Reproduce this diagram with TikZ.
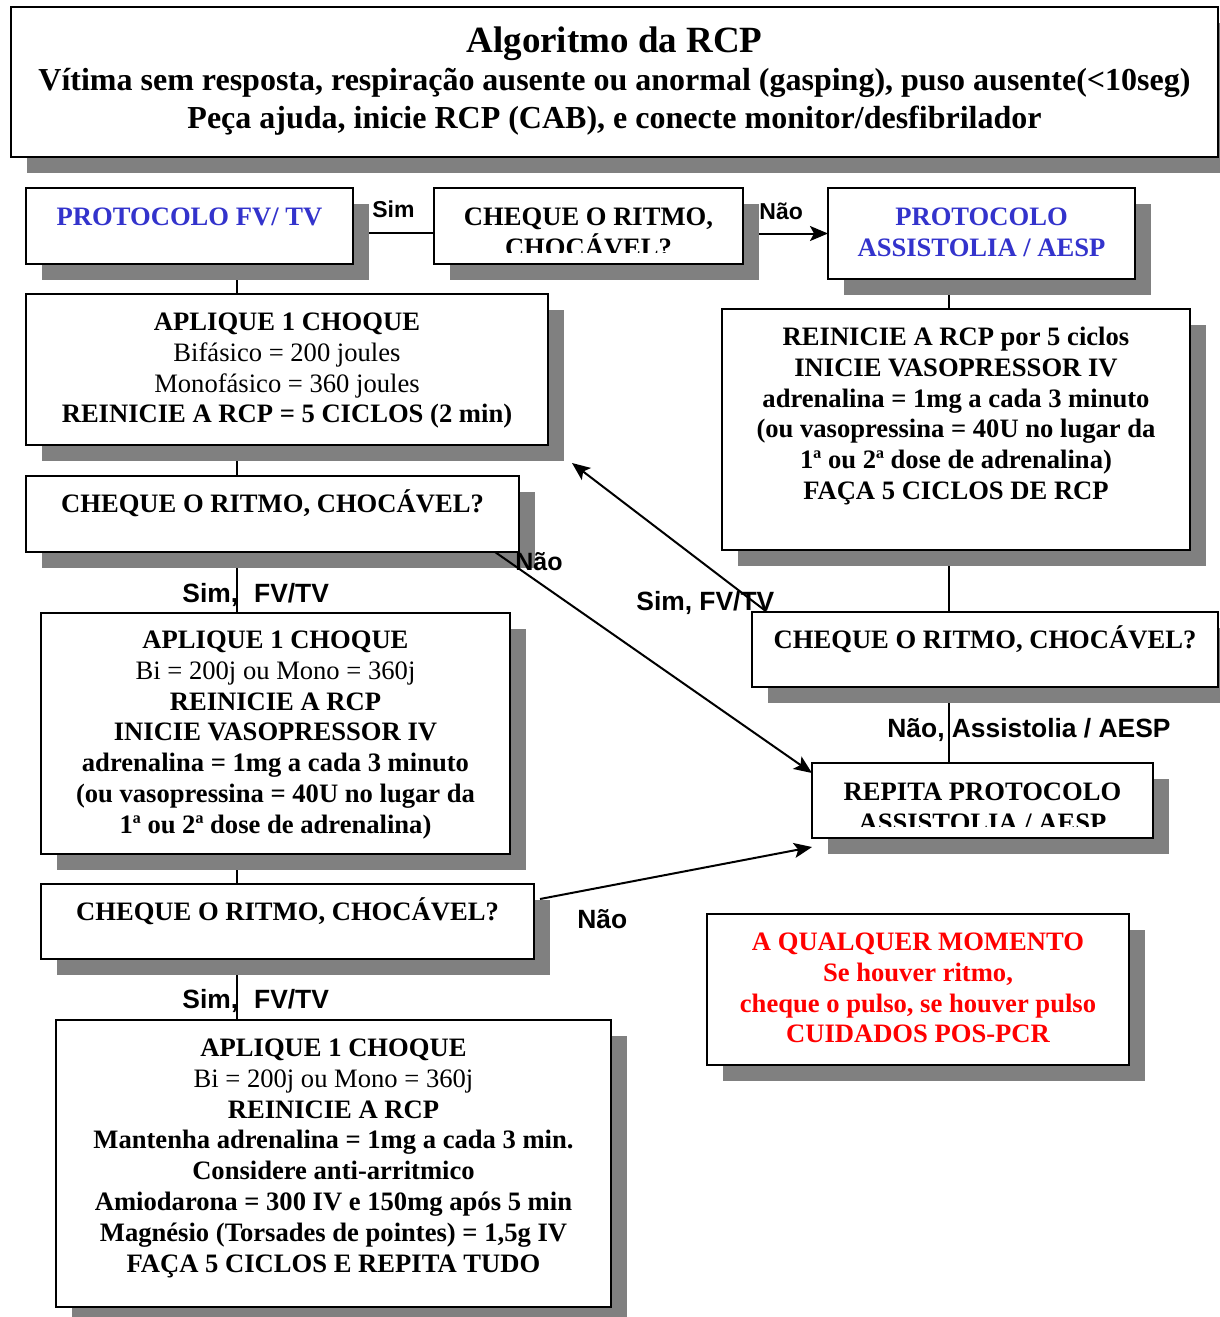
\documentclass[tikz,border=0pt]{standalone}
\usepackage{fontspec}
\setmainfont{Liberation Serif}
\newfontfamily\lblfont{Liberation Sans}
\usetikzlibrary{arrows.meta,shadows,fit,calc}
\pgfdeclarelayer{bg}
\pgfsetlayers{bg,main}
\definecolor{shadowgray}{RGB}{128,128,128}
\definecolor{protoblue}{RGB}{51,51,204}
\definecolor{alertred}{RGB}{255,0,0}
\newcommand{\firstrule}{\rule{0pt}{13pt}}
\begin{document}
\begin{tikzpicture}[x=0.5pt,y=-0.5pt,
 box/.style={draw=black, line width=1.15pt, fill=white, inner sep=0pt, outer sep=0pt,
   general shadow={fill=shadowgray, shadow xshift=8pt, shadow yshift=-8pt}},
 txt/.style={anchor=north, align=center, inner sep=0pt, font=\fontsize{13.3}{15.4}\selectfont\bfseries},
 ttl/.style={anchor=base, inner sep=0pt},
 lbl/.style={anchor=base west, inner sep=0pt, font=\fontsize{13.2}{15}\selectfont\lblfont\bfseries},
 lblsmall/.style={anchor=base west, inner sep=0pt, font=\fontsize{11.5}{13}\selectfont\lblfont\bfseries},
 lblmid/.style={anchor=base west, inner sep=0pt, font=\fontsize{12.5}{14}\selectfont\lblfont\bfseries},
 conn/.style={line width=1pt},
 arr/.style={conn, -{Stealth[length=9pt,width=7.5pt,inset=2pt]}}
]
\useasboundingbox (0,0) rectangle (1220,1317);

% ---------- boxes ----------
\node[box, fit={(11,7)(1218,157)}] (title) {};
\node[box, fit={(26,188)(353,264)}] (pfv) {};
\node[box, fit={(434,188)(743,264)}] (chk1) {};
\node[box, fit={(828,188)(1135,279)}] (pass) {};
\node[box, fit={(26,294)(548,445)}] (box1) {};
\node[box, fit={(26,476)(519,552)}] (chk2) {};
\node[box, fit={(41,613)(510,854)}] (apl2) {};
\node[box, fit={(41,884)(534,959)}] (chk3) {};
\node[box, fit={(56,1020)(611,1307)}] (apl3) {};
\node[box, fit={(722,309)(1190,550)}] (rein) {};
\node[box, fit={(752,612)(1218,687)}] (chkR) {};
\node[box, fit={(812,763)(1153,838)}] (rep) {};
\node[box, fit={(707,914)(1129,1065)}] (qual) {};

% ---------- title ----------
\node[ttl, font=\fontsize{18.5}{22}\selectfont\bfseries] (t1) at (614.5,53) {Algoritmo da RCP};
\node[ttl, font=\fontsize{16}{19}\selectfont\bfseries] (t2) at (614.5,90) {Vítima sem resposta, respiração ausente ou anormal (gasping), puso ausente(<10seg)};
\node[ttl, font=\fontsize{16}{19}\selectfont\bfseries] (t3) at (614.5,128) {Peça ajuda, inicie RCP (CAB), e conecte monitor/desfibrilador};

% ---------- box texts ----------
\node[txt, text=protoblue] (pfvt) at (189.5,199) {\firstrule PROTOCOLO FV/ TV};
\begin{scope}
\clip (434,188) rectangle (743,252);
\node[txt] (chk1t) at (588.5,199) {\firstrule CHEQUE O RITMO,\\CHOCÁVEL?};
\end{scope}
\node[txt, text=protoblue] (passt) at (981.5,199) {\firstrule PROTOCOLO\\ASSISTOLIA / AESP};
\node[txt] (box1t) at (287,304) {\firstrule APLIQUE 1 CHOQUE\\{\mdseries Bifásico = 200 joules}\\{\mdseries Monofásico = 360 joules}\\REINICIE A RCP = 5 CICLOS (2 min)};
\node[txt] (chk2t) at (272.5,486) {\firstrule CHEQUE O RITMO, CHOCÁVEL?};
\node[txt] (apl2t) at (275.5,622) {\firstrule APLIQUE 1 CHOQUE\\{\mdseries Bi = 200j ou Mono = 360j}\\REINICIE A RCP\\INICIE VASOPRESSOR IV\\adrenalina = 1mg a cada 3 minuto\\(ou vasopressina = 40U no lugar da\\1ª ou 2ª dose de adrenalina)};
\node[txt] (chk3t) at (287.5,894) {\firstrule CHEQUE O RITMO, CHOCÁVEL?};
\node[txt] (apl3t) at (333.5,1030) {\firstrule APLIQUE 1 CHOQUE\\{\mdseries Bi = 200j ou Mono = 360j}\\REINICIE A RCP\\Mantenha adrenalina = 1mg a cada 3 min.\\Considere anti-arritmico\\Amiodarona = 300 IV e 150mg após 5 min\\Magnésio (Torsades de pointes) = 1,5g IV\\FAÇA 5 CICLOS E REPITA TUDO};
\node[txt] (reint) at (956,319) {\firstrule REINICIE A RCP por 5 ciclos\\INICIE VASOPRESSOR IV\\adrenalina = 1mg a cada 3 minuto\\(ou vasopressina = 40U no lugar da\\1ª ou 2ª dose de adrenalina)\\FAÇA 5 CICLOS DE RCP};
\node[txt] (chkRt) at (985,622) {\firstrule CHEQUE O RITMO, CHOCÁVEL?};
\begin{scope}
\clip (812,763) rectangle (1153,826);
\node[txt] (rept) at (982.5,774) {\firstrule REPITA PROTOCOLO\\ASSISTOLIA / AESP};
\end{scope}
\node[txt, text=alertred] (qualt) at (918,924) {\firstrule A QUALQUER MOMENTO\\Se houver ritmo,\\cheque o pulso, se houver pulso\\CUIDADOS POS-PCR};

% ---------- connectors behind boxes ----------
\coordinate (colL) at (237,0);
\coordinate (colR) at (949,0);
\begin{pgfonlayer}{bg}
\draw[conn] ([yshift=-3.5pt]pfv.east) -- ([yshift=-3.5pt]chk1.west);
\draw[arr] (chk1.east |- pass.west) -- (pass.west);
\draw[conn] (pfv.south -| colL) -- (box1.north -| colL);
\draw[conn] (box1.south -| colL) -- (chk2.north -| colL);
\draw[conn] (chk2.south -| colL) -- (apl2.north -| colL);
\draw[conn] (apl2.south -| colL) -- (chk3.north -| colL);
\draw[conn] (chk3.south -| colL) -- (apl3.north -| colL);
\draw[conn] (pass.south -| colR) -- (rein.north -| colR);
\draw[conn] (rein.south -| colR) -- (chkR.north -| colR);
\draw[conn] (chkR.south -| colR) -- (rep.north -| colR);
\end{pgfonlayer}

% ---------- labels ----------
\node[lblsmall] (lsim1) at (372,217) {Sim};
\node[lblsmall] (lnao1) at (759,219) {Não};
\node[lblmid] (lnao2) at (515,570) {Não};
\node[lbl] (lsim2) at (182,602) {Sim,\hspace{8pt}FV/TV};
\node[lbl] (lsim3) at (636,610) {Sim, FV/TV};
\node[lbl] (lnao3) at (887,737) {Não, Assistolia / AESP};
\node[lbl] (lnao4) at (577,928) {Não};
\node[lbl] (lsim4) at (182,1008) {Sim,\hspace{8pt}FV/TV};

% ---------- diagonal arrows ----------
\draw[arr] ([xshift=-12pt]chk2.south east) -- ([yshift=-5pt]rep.north west);
\draw[arr] ([xshift=7.5pt]chkR.north west) -- ([shift={(12pt,-9pt)}]box1.south east);
\draw[arr] ([shift={(3pt,-7.5pt)}]chk3.north east) -- ([yshift=-4.5pt]rep.south west);
\end{tikzpicture}
\end{document}
